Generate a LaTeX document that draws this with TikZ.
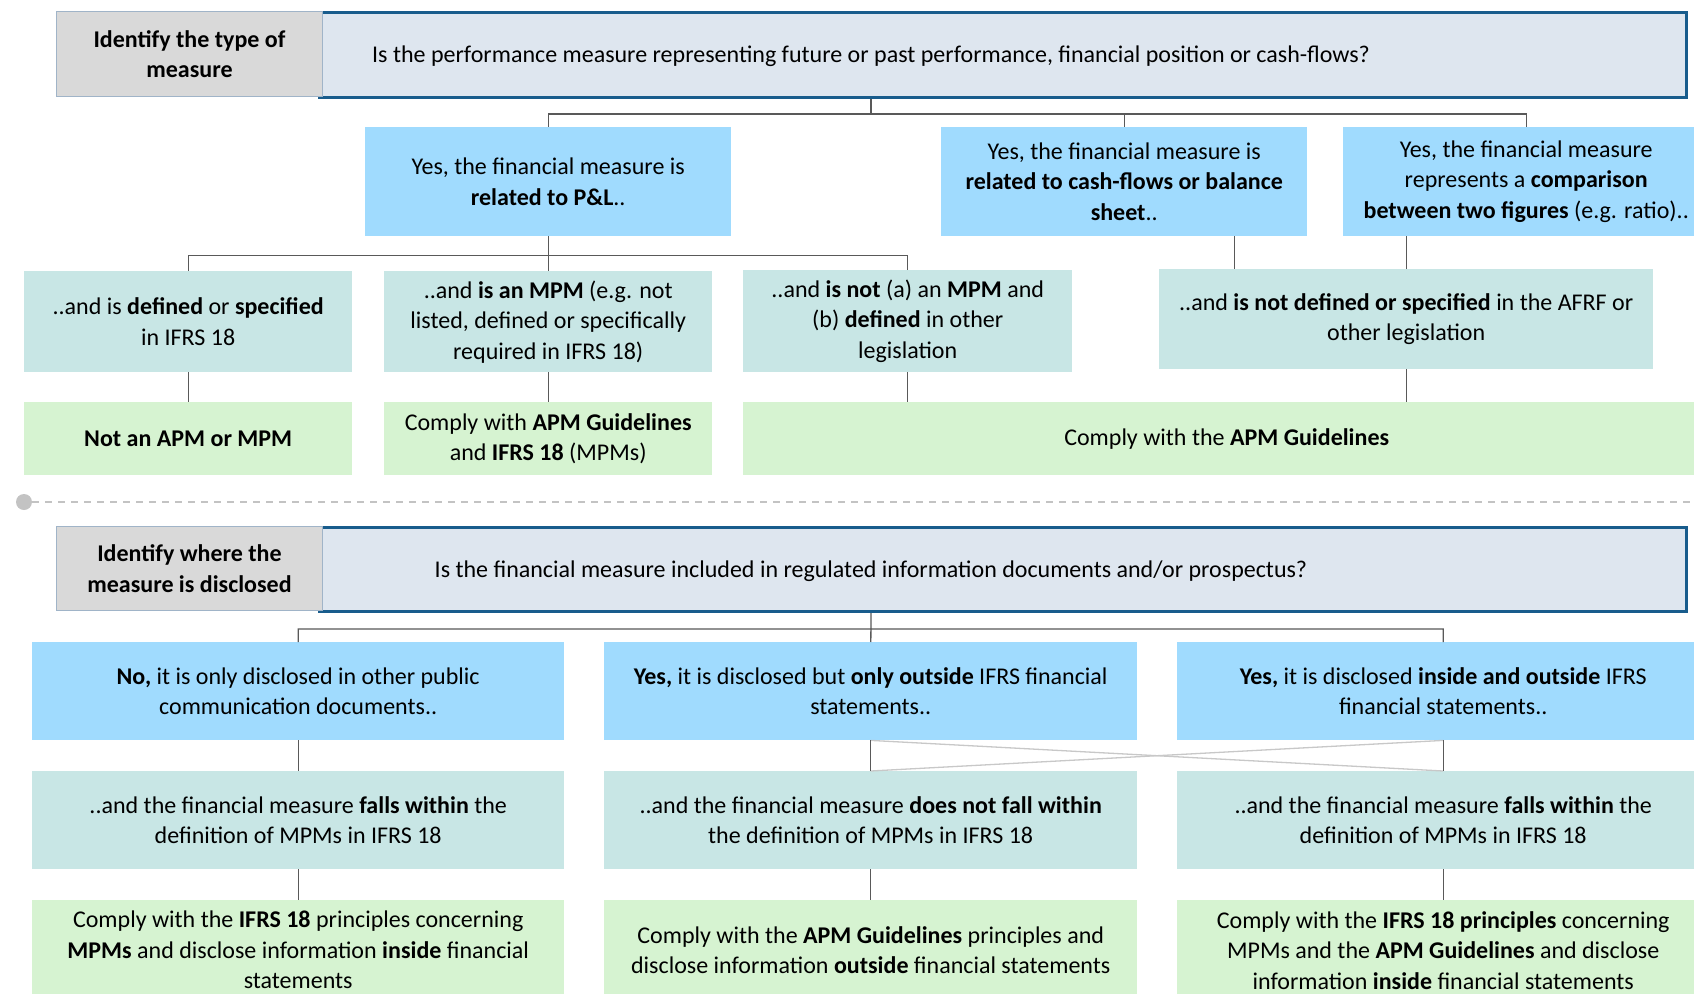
\documentclass[tikz,border=0pt]{standalone}
\usepackage{fontspec}
\setmainfont{Carlito}
\definecolor{taggray}{RGB}{217,217,217}
\definecolor{tagedge}{RGB}{160,180,200}
\definecolor{askfill}{RGB}{222,230,239}
\definecolor{askedge}{RGB}{24,92,140}
\definecolor{ansblue}{RGB}{160,219,254}
\definecolor{condteal}{RGB}{200,230,229}
\definecolor{actgreen}{RGB}{214,243,209}
\definecolor{linkgray}{RGB}{89,89,89}
\definecolor{crossgray}{RGB}{200,200,200}
\definecolor{sepgray}{RGB}{195,195,195}
\begin{document}
\begin{tikzpicture}[x=1pt, y=-1pt,
    every node/.style={inner sep=0pt, align=center, font=\fontsize{24}{30.5}\selectfont},
    cell/.style={anchor=north west},
    tagbox/.style={cell, fill=taggray, draw=tagedge, line width=1pt, font=\fontsize{24}{30.5}\selectfont\bfseries},
    askbox/.style={cell, fill=askfill, draw=askedge, line width=3pt},
    ansbox/.style={cell, fill=ansblue},
    condbox/.style={cell, fill=condteal},
    actbox/.style={cell, fill=actgreen},
    link/.style={draw=linkgray, line width=1.4pt},
    cross/.style={draw=crossgray, line width=1.3pt}]
    \useasboundingbox[fill=white] (0,0) rectangle (1694,993);

    % ===== TYPE OF MEASURE =====
    \node[askbox, minimum width=1367, minimum height=85] (q1) at (318,11) {};
    \node[tagbox, minimum width=266, minimum height=85] (t1) at (56,11) {Identify the type of\\measure};
    \node (q1text) at (871,56) {Is the performance measure representing future or past performance, financial position or cash-flows?};

    % Answers
    \node[ansbox, minimum width=366, minimum height=109] (pl) at (365,127) {Yes, the financial measure is\\\textbf{related to P\&L}..};
    \node[ansbox, minimum width=366, minimum height=109] (cf) at (941,127) {Yes, the financial measure is\\\textbf{related to cash-flows or balance}\\\textbf{sheet}..};
    \node[ansbox, minimum width=366, minimum height=109] (cmp) at (1343,127) {Yes, the financial measure\\represents a \textbf{comparison}\\\textbf{between two figures} (e.g. ratio)..};

    % Conditions
    \node[condbox, minimum width=328, minimum height=101] (a) at (24,271) {..and is \textbf{defined} or \textbf{specified}\\in IFRS 18};
    \node[condbox, minimum width=328, minimum height=101] (b) at (384,271) {..and \textbf{is an MPM} (e.g. not\\listed, defined or specifically\\required in IFRS 18)};
    \node[condbox, minimum width=329, minimum height=102] (c) at (743,270) {..and \textbf{is not} (a) an \textbf{MPM} and\\(b) \textbf{defined} in other\\legislation};
    \node[condbox, minimum width=494, minimum height=100] (d) at (1159,269) {..and \textbf{is not defined or specified} in the AFRF or\\other legislation};

    % Outcomes
    \node[actbox, minimum width=328, minimum height=73] (na) at (24,402) {\textbf{Not an APM or MPM}};
    \node[actbox, minimum width=328, minimum height=73] (cb) at (384,402) {Comply with \textbf{APM Guidelines}\\and \textbf{IFRS 18} (MPMs)};
    \node[actbox, minimum width=967, minimum height=73] (cg) at (743,402) {Comply with the \textbf{APM Guidelines}};

    \draw[link] (q1.south -| q1text) -- ++(0,15) coordinate (bus1) -| (pl.north)
        (bus1) -| (cf.north) (bus1) -| (cmp.north);
    \draw[link] (pl.south) -- ++(0,19) coordinate (bus2) -| (a.north)
        (bus2) -| (c.north) (bus2) -- (b.north);
    \coordinate (cfdrop) at ([xshift=110pt]cf.south);
    \draw[link] (cfdrop) -- (cfdrop |- d.north);
    \draw[link] (d.north) -- (d.north |- cmp.south);
    \draw[link] (a.south) -- (na.north);
    \draw[link] (b.south) -- (cb.north);
    \draw[link] (c.south) -- (c.south |- cg.north);
    \draw[link] (d.south) -- (d.south |- cg.north);

    % Separator
    \node[circle, fill=sepgray, minimum size=16] (dot) at (24,502) {};
    \coordinate (sepend) at (1694,502);
    \draw[sepgray, line width=2.5pt, dash pattern=on 7pt off 6pt] (dot.east) -- (sepend);

    % ===== WHERE DISCLOSED =====
    \node[askbox, minimum width=1367, minimum height=84] (q2) at (318,526) {};
    \node[tagbox, minimum width=266, minimum height=84] (t2) at (56,526) {Identify where the\\measure is disclosed};
    \node (q2text) at (871,571) {Is the financial measure included in regulated information documents and/or prospectus?};

    \node[ansbox, minimum width=532, minimum height=98] (no) at (32,642) {\textbf{No,} it is only disclosed in other public\\communication documents..};
    \node[ansbox, minimum width=533, minimum height=98] (out) at (604,642) {\textbf{Yes,} it is disclosed but \textbf{only outside} IFRS financial\\statements..};
    \node[ansbox, minimum width=532, minimum height=98] (inout) at (1177,642) {\textbf{Yes,} it is disclosed \textbf{inside and outside} IFRS\\financial statements..};

    \node[condbox, minimum width=532, minimum height=98] (fw1) at (32,771) {..and the financial measure \textbf{falls within} the\\definition of MPMs in IFRS 18};
    \node[condbox, minimum width=533, minimum height=98] (nfw) at (604,771) {..and the financial measure \textbf{does not fall within}\\the definition of MPMs in IFRS 18};
    \node[condbox, minimum width=532, minimum height=98] (fw2) at (1177,771) {..and the financial measure \textbf{falls within} the\\definition of MPMs in IFRS 18};

    \node[actbox, minimum width=532, minimum height=100] (ci) at (32,900) {Comply with the \textbf{IFRS 18} principles concerning\\\textbf{MPMs} and disclose information \textbf{inside} financial\\statements};
    \node[actbox, minimum width=533, minimum height=100] (co) at (604,900) {Comply with the \textbf{APM Guidelines} principles and\\disclose information \textbf{outside} financial statements};
    \node[actbox, minimum width=532, minimum height=100] (cio) at (1177,900) {Comply with the \textbf{IFRS 18 principles} concerning\\MPMs and the \textbf{APM Guidelines} and disclose\\information \textbf{inside} financial statements};

    \draw[cross] (out.south) -- (fw2.north);
    \draw[cross] (inout.south) -- (nfw.north);
    \draw[link] (q2.south -| q2text) -- ++(0,16) coordinate (bus3) -| (no.north)
        (bus3) -- (out.north) (bus3) -| (inout.north);
    \draw[link] (no.south) -- (fw1.north);
    \draw[link] (out.south) -- (nfw.north);
    \draw[link] (inout.south) -- (fw2.north);
    \draw[link] (fw1.south) -- (ci.north);
    \draw[link] (nfw.south) -- (co.north);
    \draw[link] (fw2.south) -- (cio.north);
\end{tikzpicture}
\end{document}
